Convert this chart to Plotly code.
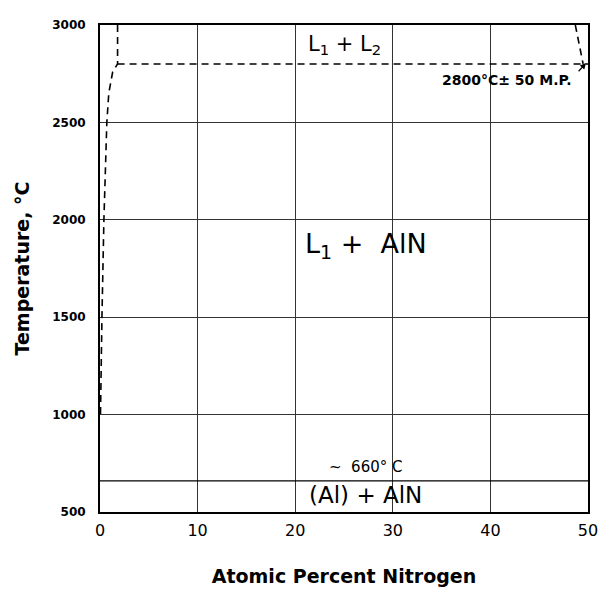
import plotly.graph_objects as go

# Phase boundaries of the Al-N system (x: at.% N, T: deg C)
liq_left_x = [1.8, 1.8, 1.3, 0.9, 0.7, 0.4, 0.2, 0.05]
liq_left_t = [3000, 2800, 2760, 2650, 2500, 2000, 1500, 1000]
miscib_x = [1.8, 50.0]
miscib_t = [2800, 2800]
liq_right_x = [48.7, 49.5]
liq_right_t = [3000, 2800]
al_melt_x = [0, 50]
al_melt_t = [660, 660]

x_ticks = [0, 10, 20, 30, 40, 50]
y_ticks = [500, 1000, 1500, 2000, 2500, 3000]

# Phase-field labels
field_labels = ["L<sub>1</sub> + L<sub>2</sub>", "L<sub>1</sub> +  AlN", "(Al) + AlN"]
field_x = [25.0, 27.3, 27.2]
field_t = [2895, 1870, 588]
field_size = [21, 27, 23]

FONT = "DejaVu Sans"
dash = "7px,5px"

fig = go.Figure()
for xs, ts in [(liq_left_x, liq_left_t), (miscib_x, miscib_t), (liq_right_x, liq_right_t)]:
    fig.add_trace(go.Scatter(x=xs, y=ts, mode="lines",
                             line=dict(color="black", width=1.6, dash=dash),
                             hoverinfo="skip", showlegend=False))
fig.add_trace(go.Scatter(x=al_melt_x, y=al_melt_t, mode="lines",
                         line=dict(color="black", width=1.4),
                         hoverinfo="skip", showlegend=False))

for txt, xv, tv, sz in zip(field_labels, field_x, field_t, field_size):
    fig.add_annotation(x=xv, y=tv, text=txt, showarrow=False,
                       font=dict(family=FONT, size=sz, color="black"))

fig.add_annotation(x=27.2, y=732, text="~  660° C", showarrow=False,
                   font=dict(family=FONT, size=15, color="black"))
fig.add_annotation(x=49.8, y=2805, ax=48.9, ay=2755, xref="x", yref="y",
                   axref="x", ayref="y", text="", showarrow=True,
                   arrowhead=2, arrowsize=1, arrowwidth=1.2, arrowcolor="black")
fig.add_annotation(x=41.6, y=2716, text="2800°C± 50 M.P.", showarrow=False,
                   font=dict(family=FONT, size=14, color="black", weight="bold"))

axis_common = dict(showline=True, linecolor="black", linewidth=2, mirror=True,
                   showgrid=True, gridcolor="#333333", gridwidth=1,
                   zeroline=False, ticks="", color="black", automargin=False)

fig.update_xaxes(range=[0, 50], tickvals=x_ticks, ticklabelstandoff=3,
                 tickfont=dict(family=FONT, size=16),
                 title=dict(text="Atomic Percent Nitrogen", standoff=30,
                            font=dict(family=FONT, size=19, weight="bold")),
                 **axis_common)
fig.update_yaxes(range=[500, 3000], tickvals=y_ticks, ticklabelstandoff=10,
                 tickfont=dict(family=FONT, size=12, weight="bold"),
                 title=dict(text="Temperature, °C", standoff=18,
                            font=dict(family=FONT, size=19, weight="bold")),
                 **axis_common)

fig.update_layout(width=602, height=592,
                  margin=dict(l=100, r=14, t=25, b=80),
                  plot_bgcolor="white", paper_bgcolor="white")

fig.write_html("out.html")
